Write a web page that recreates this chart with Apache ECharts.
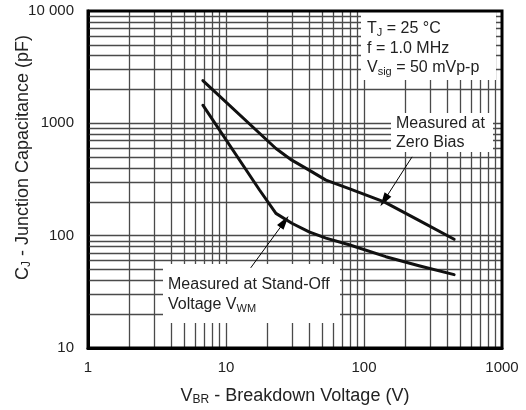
<!DOCTYPE html>
<html>
<head>
<meta charset="utf-8">
<script src="https://cdn.jsdelivr.net/npm/echarts@6/dist/echarts.min.js"></script>
<style>
html,body{margin:0;padding:0;background:#fff;}
#c{width:526px;height:410px;}
</style>
</head>
<body>
<div id="c"></div>
<script>
// ---- data ----
const xTicks = [1, 10, 100, 1000];
const yTicks = [10, 100, 1000, 10000];
const xGrid = [2,3,4,5,6,7,8,9,10,20,30,40,50,60,70,80,90,100,200,300,400,500,600,700,800,900];
const yGrid = [20,30,40,50,60,70,80,90,100,200,300,400,500,600,700,800,900,1000,2000,3000,4000,5000,6000,7000,8000,9000];
const zeroBias = [[6.8,2400],[23,597],[30,470],[40,383],[53,312],[78,262],[140,200],[250,137],[450,93]];
const standOff = [[6.8,1450],[17.5,255],[23,158],[30,129],[40,108],[53,95],[78,83],[144,65],[250,54],[450,45]];
const arrowZero = [[223,503],[140,206]];
const arrowStand = [[15.1,51.7],[26.5,133]];

const F = 'Liberation Sans, Arial, Helvetica, sans-serif';
const chart = echarts.init(document.getElementById('c'), null, {renderer:'canvas'});

const gridLineStyle = {color:'#4a4a4a', width:1.3, type:'solid'};
const gridMarks = xGrid.map(v => ({xAxis:v})).concat(yGrid.map(v => ({yAxis:v})));

function arrowLine(a){
  return {
    silent:true, symbol:['none','triangle'], symbolSize:[8,14],
    label:{show:false},
    lineStyle:{color:'#000', width:1, type:'solid'},
    data:[[{coord:a[0]},{coord:a[1]}]]
  };
}
const subRich = (size) => ({
  m:{fontSize:size, fontFamily:F, color:'#222'},
  s:{fontSize:Math.round(size*0.68), fontFamily:F, color:'#222', verticalAlign:'bottom', padding:[8,0,0,0]}
});

const option = {
  animation:false,
  backgroundColor:'#fff',
  textStyle:{fontFamily:F},
  grid:{left:88, right:24, top:11, bottom:62, containLabel:false, outerBoundsMode:'none',
        show:true, borderColor:'#000', borderWidth:3, z:10},
  xAxis:{
    type:'log', logBase:10, min:1, max:1000,
    axisLine:{show:true, lineStyle:{color:'#000', width:3}},
    axisTick:{show:false},
    splitLine:{show:false},
    axisLabel:{color:'#222', fontSize:15, fontFamily:F, margin:12,
      formatter:v => xTicks.indexOf(v)>=0 ? String(v) : ''},
    name:'{m|V}{s|BR}{m| - Breakdown Voltage (V)}',
    nameLocation:'middle', nameGap:38, nameMoveOverlap:false,
    nameTextStyle:{rich:subRich(18)}
  },
  yAxis:{
    type:'log', logBase:10, min:10, max:10000,
    axisLine:{show:true, lineStyle:{color:'#000', width:3}},
    axisTick:{show:false},
    splitLine:{show:false},
    axisLabel:{color:'#222', fontSize:15, fontFamily:F, margin:14,
      formatter:v => v===10000 ? '10 000' : String(v)},
    name:'{m|C}{s|J}{m| - Junction Capacitance (pF)}',
    nameLocation:'middle', nameGap:55, nameMoveOverlap:false,
    nameTextStyle:{rich:subRich(18), padding:[0,0,0,44]}
  },
  series:[
    {
      name:'grid', type:'line', data:[[1,10]], showSymbol:false, silent:true, z:1,
      lineStyle:{width:0},
      markLine:{silent:true, symbol:'none', label:{show:false}, lineStyle:gridLineStyle, data:gridMarks, z:1}
    },
    {
      name:'Measured at Zero Bias', type:'line', data:zeroBias, showSymbol:false, smooth:false, z:5,
      lineStyle:{color:'#111', width:3, cap:'round', join:'round'},
      markLine:arrowLine(arrowZero)
    },
    {
      name:'Measured at Stand-Off Voltage VWM', type:'line', data:standOff, showSymbol:false, smooth:false, z:5,
      lineStyle:{color:'#111', width:3, cap:'round', join:'round'},
      markLine:arrowLine(arrowStand)
    }
  ],
  graphic:[
    {type:'rect', z:3, shape:{x:361, y:12, width:135, height:68}, style:{fill:'#fff'}},
    {type:'text', z:4, x:367, y:29, style:{text:'{m|T}{s|J}{m| = 25 °C}', fill:'#222', verticalAlign:'middle',
      rich:{m:{fontSize:16, fontFamily:F, fill:'#222'}, s:{fontSize:11, fontFamily:F, fill:'#222', verticalAlign:'bottom', padding:[7,0,0,0]}}}},
    {type:'text', z:4, x:367, y:49, style:{text:'f = 1.0 MHz', fill:'#222', verticalAlign:'middle', font:'16px '+F}},
    {type:'text', z:4, x:367, y:68, style:{text:'{m|V}{s|sig}{m| = 50 mVp-p}', fill:'#222', verticalAlign:'middle',
      rich:{m:{fontSize:16, fontFamily:F, fill:'#222'}, s:{fontSize:11, fontFamily:F, fill:'#222', verticalAlign:'bottom', padding:[7,0,0,0]}}}},

    {type:'rect', z:3, shape:{x:391, y:113, width:102, height:39}, style:{fill:'#fff'}},
    {type:'text', z:4, x:396, y:124, style:{text:'Measured at', fill:'#222', verticalAlign:'middle', font:'16px '+F}},
    {type:'text', z:4, x:396, y:143, style:{text:'Zero Bias', fill:'#222', verticalAlign:'middle', font:'16px '+F}},

    {type:'rect', z:3, shape:{x:163, y:264, width:177, height:59}, style:{fill:'#fff'}},
    {type:'text', z:4, x:168, y:285, style:{text:'Measured at Stand-Off', fill:'#222', verticalAlign:'middle', font:'16px '+F}},
    {type:'text', z:4, x:168, y:305, style:{text:'{m|Voltage V}{s|WM}', fill:'#222', verticalAlign:'middle',
      rich:{m:{fontSize:16, fontFamily:F, fill:'#222'}, s:{fontSize:11, fontFamily:F, fill:'#222', verticalAlign:'bottom', padding:[7,0,0,0]}}}}
  ]
};
chart.setOption(option);
</script>
</body>
</html>
